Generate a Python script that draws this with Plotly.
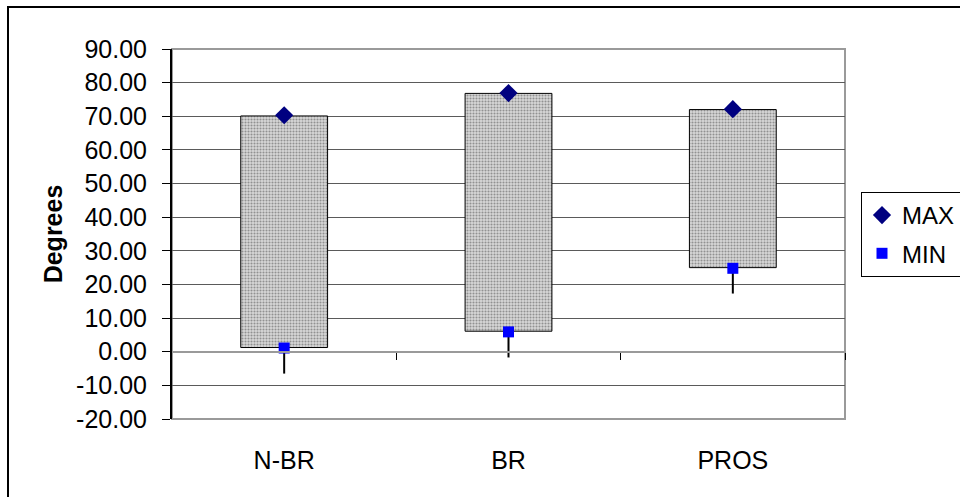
import plotly.graph_objects as go

categories = ["N-BR", "BR", "PROS"]
bar_low = [1.25, 6.1, 25.0]
bar_high = [70.1, 76.8, 72.0]
max_vals = [70.3, 76.9, 72.1]
min_vals = [1.1, 5.9, 24.8]
low_vals = [-6.5, -1.7, 17.3]
y_ticks = [-20, -10, 0, 10, 20, 30, 40, 50, 60, 70, 80, 90]

FONT = "Liberation Sans, Arial, sans-serif"
FS = 25
xs = list(range(len(categories)))

fig = go.Figure()
fig.add_trace(go.Bar(
    x=xs, y=[h - l for h, l in zip(bar_high, bar_low)], base=bar_low,
    width=0.387, showlegend=False, hoverinfo="skip",
    marker=dict(color="#d0d0d0", line=dict(color="black", width=1),
                pattern=dict(shape=".", fgcolor="#4a4a4a", bgcolor="#d8d8d8",
                             size=3, solidity=0.4)),
))
fig.add_trace(go.Scatter(
    x=xs, y=max_vals, mode="markers", name="MAX", legendgroup="a",
    marker=dict(symbol="diamond", size=14, color="#000080"),
))
fig.add_trace(go.Scatter(
    x=xs, y=min_vals, mode="markers", name="MIN", legendgroup="b",
    marker=dict(symbol="square", size=11, color="#0000FF"),
    error_y=dict(type="data", symmetric=False,
                 array=[0] * len(min_vals),
                 arrayminus=[m - l for m, l in zip(min_vals, low_vals)],
                 color="black", thickness=2, width=0),
))

L, R, T, B = 172, 115, 49, 78
W, H = 960, 497
pw, ph = W - L - R, H - T - B
ymin, ymax = -20, 90

def px(x):
    return (x - L) / pw

def py(y):
    return (H - B - y) / ph

fig.update_layout(
    width=W, height=H,
    margin=dict(l=L, r=R, t=T, b=B, pad=0, autoexpand=False),
    paper_bgcolor="white", plot_bgcolor="white",
    font=dict(family=FONT, size=FS, color="black"),
    barmode="overlay",
    legend=dict(x=px(861), y=py(192), xanchor="left", yanchor="top",
                bordercolor="black", borderwidth=1, bgcolor="white",
                font=dict(size=24), tracegroupgap=4, traceorder="grouped",
                itemwidth=30),
    xaxis=dict(range=[-0.5, len(categories) - 0.5], tickvals=xs, ticktext=categories,
               showgrid=False, zeroline=False, ticks="", showline=False,
               tickfont=dict(size=FS), ticklabelstandoff=24),
    xaxis2=dict(range=[-0.5, len(categories) - 0.5], overlaying="x", anchor="free",
                position=(0 - ymin) / (ymax - ymin),
                tickvals=[x + 0.5 for x in xs], ticks="outside", ticklen=7,
                tickcolor="black", tickwidth=1, showticklabels=False,
                showline=True, linecolor="#9a9a9a", linewidth=2, showgrid=False,
                zeroline=False),
    yaxis=dict(range=[ymin, ymax], tickvals=y_ticks,
               ticktext=[f"{v:.2f}" for v in y_ticks],
               showgrid=True, gridcolor="#5a5a5a", gridwidth=1, zeroline=False,
               showline=True, linecolor="black", linewidth=2,
               ticks="outside", ticklen=8, tickcolor="black",
               tickfont=dict(size=FS), ticklabelstandoff=10,
               title=dict(text="<b>Degrees</b>", font=dict(size=FS), standoff=6)),
    shapes=[
        dict(type="rect", xref="paper", yref="paper", x0=0, x1=1, y0=0, y1=1,
             line=dict(color="#9a9a9a", width=2), layer="below"),
        dict(type="rect", xref="paper", yref="paper", x0=px(8), x1=px(975),
             y0=py(510), y1=py(7), line=dict(color="black", width=2), layer="above"),
    ],
)
fig.add_trace(go.Scatter(x=[None], y=[None], xaxis="x2", showlegend=False, hoverinfo="skip"))

fig.write_html("out.html")
